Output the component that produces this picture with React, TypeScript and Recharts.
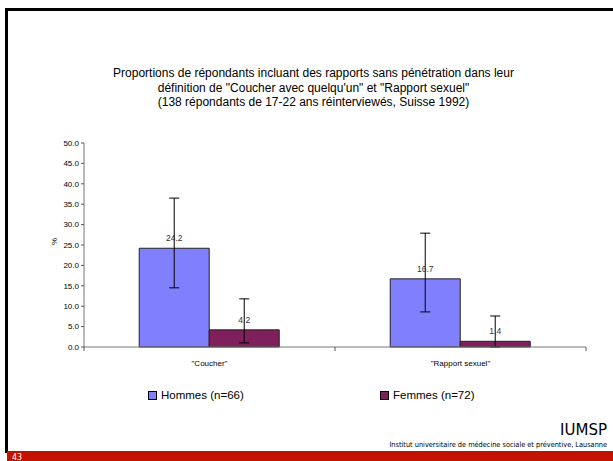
import React from 'react';
import { BarChart, Bar, XAxis, YAxis, ErrorBar, LabelList, Legend } from 'recharts';

const categories = ['"Coucher"', '"Rapport sexuel"'];
const hommes = [24.2, 16.7];
const femmes = [4.2, 1.4];
// [below, above] error amounts
const hommesErr = [[9.7, 12.3], [8.1, 11.2]];
const femmesErr = [[3.2, 7.6], [1.4, 6.2]];
const yTicks = [0, 5, 10, 15, 20, 25, 30, 35, 40, 45, 50];

const titleLines = [
  'Proportions de répondants incluant des rapports sans pénétration dans leur',
  'définition de "Coucher avec quelqu\'un" et "Rapport sexuel"',
  '(138 répondants de 17-22 ans réinterviewés, Suisse 1992)',
];

const data = categories.map((c, i) => ({
  name: c,
  hommes: hommes[i],
  femmes: femmes[i],
  hErr: hommesErr[i],
  fErr: femmesErr[i],
}));

const W = 613;
const H = 461;
const LEGEND_H = 20;
const X_AXIS_H = 30;
// plot area: left 84, right 586, top 143, bottom 347
const margin = { top: 143 - LEGEND_H, right: 27, bottom: 114 - X_AXIS_H, left: 44 };
const Y_AXIS_W = 40;
const FONT = '"Liberation Sans", Arial, sans-serif';
const HALF_BAND = (W - margin.left - Y_AXIS_W - margin.right) / categories.length / 2;

const CategoryTick = (props: any) => {
  const { x, y, payload, index } = props;
  return (
    <g>
      <line x1={x - HALF_BAND} x2={x - HALF_BAND} y1={y} y2={y + 4} stroke="#555" />
      {index === categories.length - 1 && (
        <line x1={x + HALF_BAND} x2={x + HALF_BAND} y1={y} y2={y + 4} stroke="#555" />
      )}
      <text x={x} y={y + 19} textAnchor="middle" fontSize={8} fontFamily={FONT} fill="#000">
        {payload.value}
      </text>
    </g>
  );
};

const legendItems = [
  { label: 'Hommes (n=66)', color: '#8080ff', left: 148 },
  { label: 'Femmes (n=72)', color: '#7f1f5c', left: 380 },
];

const LegendContent = () => (
  <div style={{ position: 'relative', width: W, height: LEGEND_H }}>
    {legendItems.map((it) => (
      <div
        key={it.label}
        style={{ position: 'absolute', left: it.left, top: 0, display: 'flex', alignItems: 'center', fontFamily: FONT, fontSize: 11.5, color: '#000' }}
      >
        <span style={{ display: 'inline-block', width: 7, height: 7, background: it.color, border: '1px solid #000', marginRight: 4 }} />
        {it.label}
      </div>
    ))}
  </div>
);

export default function App() {
  return (
    <div style={{ position: 'fixed', left: 0, top: 0, width: W, height: H, background: '#fff', overflow: 'hidden' }}>
      {/* slide frame */}
      <div style={{ position: 'absolute', left: 5, top: 8, width: W - 5, height: 3, background: '#000' }} />
      <div style={{ position: 'absolute', left: 5, top: 8, width: 3, height: 445, background: '#000' }} />
      <div style={{ position: 'absolute', left: 7, top: 451, width: W - 7, height: 10, background: '#c41200' }} />
      <div style={{ position: 'absolute', left: 12, top: 453, fontFamily: '"DejaVu Sans", sans-serif', fontSize: 8, color: '#fff' }}>43</div>

      <div style={{ position: 'absolute', left: 0, top: 66, width: 627, textAlign: 'center', fontFamily: FONT, fontSize: 12, lineHeight: '14.5px', color: '#000' }}>
        {titleLines.map((l) => (
          <div key={l}>{l}</div>
        ))}
      </div>

      <div style={{ position: 'absolute', left: 0, top: 0 }}>
        <BarChart width={W} height={H} data={data} margin={margin} barGap={0} barCategoryGap="22%">
          <XAxis
            dataKey="name"
            height={X_AXIS_H}
            axisLine={{ stroke: '#777' }}
            tickLine={false}
            tickSize={0}
            tickMargin={0}
            tick={<CategoryTick />}
            interval={0}
          />
          <YAxis
            width={Y_AXIS_W}
            domain={[0, 50]}
            ticks={yTicks}
            interval={0}
            tickFormatter={(v: number) => v.toFixed(1)}
            tick={{ fontSize: 8, fill: '#000', fontFamily: FONT }}
            tickSize={3}
            tickMargin={2}
            axisLine={{ stroke: '#777' }}
            tickLine={{ stroke: '#555' }}
            label={{ value: '%', angle: -90, position: 'insideLeft', offset: 10, style: { fontSize: 8, fontFamily: FONT, fill: '#000' } }}
          />
          <Legend
            verticalAlign="top"
            content={<LegendContent />}
            wrapperStyle={{ position: 'absolute', top: 389, left: 0, width: W, height: LEGEND_H }}
          />
          <Bar dataKey="hommes" fill="#8080ff" stroke="#222" strokeWidth={1} isAnimationActive={false}>
            <ErrorBar dataKey="hErr" width={5} stroke="#000" strokeWidth={1} isAnimationActive={false} />
            <LabelList dataKey="hommes" position="top" offset={7} style={{ fontSize: 8.5, fontFamily: FONT, fill: '#333' }} />
          </Bar>
          <Bar dataKey="femmes" fill="#7f1f5c" stroke="#222" strokeWidth={1} isAnimationActive={false}>
            <ErrorBar dataKey="fErr" width={5} stroke="#000" strokeWidth={1} isAnimationActive={false} />
            <LabelList dataKey="femmes" position="top" offset={7} style={{ fontSize: 8.5, fontFamily: FONT, fill: '#333' }} />
          </Bar>
        </BarChart>
      </div>

      <div style={{ position: 'absolute', right: 6, top: 421, fontFamily: '"DejaVu Sans", sans-serif', fontSize: 15, color: '#000' }}>IUMSP</div>
      <div style={{ position: 'absolute', right: 6, top: 440, fontFamily: '"DejaVu Sans Condensed", "DejaVu Sans", sans-serif', fontSize: 7.3, color: '#000', whiteSpace: 'nowrap' }}>
        Institut universitaire de médecine sociale et préventive, Lausanne
      </div>
    </div>
  );
}
